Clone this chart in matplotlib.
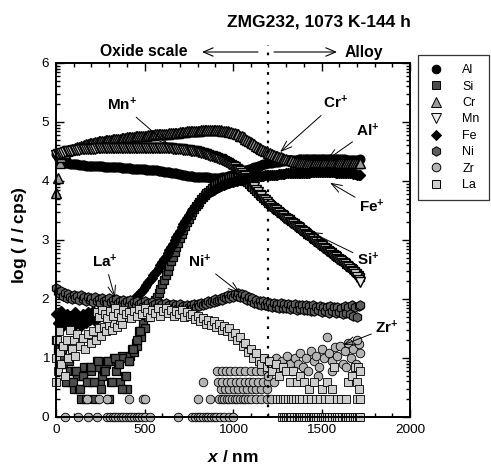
import matplotlib
matplotlib.use('Agg')
import matplotlib.pyplot as plt
import numpy as np
from matplotlib.lines import Line2D
from matplotlib.ticker import FixedLocator, MultipleLocator

# ---- data: log(I / cps) vs sputter depth (nm) ----
depth = [0, 10, 20, 30, 40, 50, 60, 70, 80, 90,
         100, 110, 120, 130, 140, 150, 160, 170, 180, 190,
         200, 210, 220, 230, 240, 250, 260, 270, 280, 290,
         300, 310, 320, 330, 340, 350, 360, 370, 380, 390,
         400, 410, 420, 430, 440, 450, 460, 470, 480, 490,
         500, 510, 520, 530, 540, 550, 560, 570, 580, 590,
         600, 610, 620, 630, 640, 650, 660, 670, 680, 690,
         700, 710, 720, 730, 740, 750, 760, 770, 780, 790,
         800, 810, 820, 830, 840, 850, 860, 870, 880, 890,
         900, 910, 920, 930, 940, 950, 960, 970, 980, 990,
         1000, 1010, 1020, 1030, 1040, 1050, 1060, 1070, 1080, 1090,
         1100, 1110, 1120, 1130, 1140, 1150, 1160, 1170, 1180, 1190,
         1200, 1210, 1220, 1230, 1240, 1250, 1260, 1270, 1280, 1290,
         1300, 1310, 1320, 1330, 1340, 1350, 1360, 1370, 1380, 1390,
         1400, 1410, 1420, 1430, 1440, 1450, 1460, 1470, 1480, 1490,
         1500, 1510, 1520, 1530, 1540, 1550, 1560, 1570, 1580, 1590,
         1600, 1610, 1620, 1630, 1640, 1650, 1660, 1670, 1680, 1690,
         1700, 1710, 1720]

al_log = [4.45, 4.40, 4.36, 4.34, 4.32, 4.31, 4.30, 4.30, 4.29, 4.29,
          4.28, 4.28, 4.28, 4.27, 4.27, 4.27, 4.27, 4.26, 4.26, 4.26,
          4.26, 4.25, 4.25, 4.25, 4.25, 4.25, 4.25, 4.24, 4.24, 4.24,
          4.24, 4.24, 4.24, 4.23, 4.23, 4.23, 4.23, 4.22, 4.22, 4.22,
          4.22, 4.22, 4.22, 4.21, 4.21, 4.21, 4.21, 4.20, 4.20, 4.20,
          4.20, 4.19, 4.19, 4.19, 4.19, 4.18, 4.18, 4.18, 4.17, 4.17,
          4.17, 4.16, 4.16, 4.15, 4.15, 4.14, 4.14, 4.13, 4.13, 4.12,
          4.12, 4.11, 4.10, 4.10, 4.09, 4.09, 4.08, 4.08, 4.07, 4.07,
          4.07, 4.06, 4.06, 4.06, 4.06, 4.06, 4.06, 4.05, 4.05, 4.05,
          4.05, 4.05, 4.05, 4.05, 4.06, 4.06, 4.07, 4.08, 4.09, 4.10,
          4.11, 4.12, 4.13, 4.14, 4.15, 4.16, 4.17, 4.18, 4.19, 4.20,
          4.21, 4.22, 4.23, 4.24, 4.25, 4.26, 4.27, 4.28, 4.29, 4.30,
          4.30, 4.31, 4.31, 4.32, 4.32, 4.33, 4.33, 4.34, 4.34, 4.35,
          4.35, 4.35, 4.35, 4.36, 4.36, 4.36, 4.36, 4.37, 4.37, 4.37,
          4.37, 4.37, 4.37, 4.38, 4.38, 4.38, 4.38, 4.38, 4.38, 4.38,
          4.38, 4.38, 4.38, 4.38, 4.37, 4.37, 4.37, 4.37, 4.37, 4.37,
          4.37, 4.37, 4.37, 4.37, 4.36, 4.36, 4.36, 4.36, 4.36, 4.36,
          4.36, 4.36, 4.37]

si_log = [1.30, 1.15, 1.00, 0.90, 0.90, 1.20, 0.60, 0.95, 0.78, 0.60,
          0.48, 0.78, 0.70, 0.48, 0.30, 0.70, 0.85, 0.30, 0.60, 0.85,
          0.78, 0.60, 0.30, 0.95, 0.85, 0.60, 0.70, 0.78, 0.90, 0.95,
          0.30, 0.60, 0.95, 1.00, 0.78, 0.90, 0.60, 1.04, 1.00, 0.70,
          0.48, 0.95, 1.04, 1.15, 1.10, 1.25, 1.20, 1.45, 1.35, 1.60,
          1.50, 1.75, 1.70, 1.80, 1.85, 1.92, 1.98, 2.04, 2.10, 2.17,
          2.25, 2.32, 2.40, 2.48, 2.56, 2.64, 2.72, 2.80, 2.88, 2.95,
          3.03, 3.10, 3.17, 3.24, 3.30, 3.36, 3.42, 3.47, 3.52, 3.57,
          3.61, 3.65, 3.69, 3.73, 3.76, 3.79, 3.82, 3.85, 3.88, 3.91,
          3.93, 3.95, 3.97, 3.99, 4.00, 4.02, 4.03, 4.04, 4.05, 4.06,
          4.07, 4.07, 4.07, 4.06, 4.05, 4.04, 4.02, 4.00, 3.98, 3.95,
          3.92, 3.89, 3.86, 3.83, 3.80, 3.77, 3.74, 3.71, 3.68, 3.66,
          3.63, 3.61, 3.58, 3.56, 3.53, 3.51, 3.49, 3.46, 3.44, 3.42,
          3.39, 3.37, 3.35, 3.32, 3.30, 3.28, 3.25, 3.23, 3.21, 3.18,
          3.16, 3.14, 3.11, 3.09, 3.07, 3.04, 3.02, 3.00, 2.97, 2.95,
          2.93, 2.90, 2.88, 2.86, 2.83, 2.81, 2.79, 2.76, 2.74, 2.72,
          2.69, 2.67, 2.65, 2.62, 2.60, 2.57, 2.55, 2.52, 2.50, 2.47,
          2.44, 2.41, 2.38]

# extra low-count Si points in the oxide scale
si_extra_depth = [15, 35, 55, 75, 95, 115, 135, 155, 175, 195, 215, 235, 255,
                  275, 295, 315, 335, 355, 375, 395, 415, 435, 455, 475]
si_extra_log = [0.90, 1.15, 0.60, 0.95, 0.60, 0.78, 0.48, 0.70, 0.60, 0.85, 0.60,
                0.95, 0.48, 0.78, 0.95, 0.60, 1.00, 0.90, 0.48, 0.70, 0.95, 1.15,
                1.30, 1.45]

cr_log = [3.80, 4.05, 4.30, 4.40, 4.45, 4.48, 4.50, 4.52, 4.53, 4.54,
          4.55, 4.56, 4.57, 4.58, 4.59, 4.60, 4.61, 4.62, 4.63, 4.64,
          4.64, 4.65, 4.66, 4.66, 4.67, 4.67, 4.68, 4.68, 4.69, 4.69,
          4.70, 4.70, 4.71, 4.71, 4.72, 4.72, 4.72, 4.73, 4.73, 4.73,
          4.74, 4.74, 4.74, 4.75, 4.75, 4.76, 4.76, 4.76, 4.76, 4.77,
          4.77, 4.77, 4.78, 4.78, 4.78, 4.78, 4.79, 4.79, 4.79, 4.79,
          4.80, 4.80, 4.80, 4.80, 4.81, 4.81, 4.82, 4.82, 4.82, 4.82,
          4.83, 4.83, 4.83, 4.83, 4.84, 4.84, 4.84, 4.84, 4.85, 4.85,
          4.85, 4.85, 4.86, 4.86, 4.86, 4.86, 4.86, 4.86, 4.86, 4.86,
          4.86, 4.86, 4.86, 4.86, 4.85, 4.85, 4.84, 4.84, 4.83, 4.83,
          4.82, 4.81, 4.80, 4.79, 4.77, 4.76, 4.74, 4.72, 4.70, 4.68,
          4.66, 4.64, 4.62, 4.60, 4.58, 4.56, 4.54, 4.53, 4.51, 4.50,
          4.48, 4.47, 4.45, 4.44, 4.43, 4.42, 4.41, 4.40, 4.39, 4.38,
          4.37, 4.36, 4.35, 4.35, 4.34, 4.33, 4.32, 4.32, 4.31, 4.31,
          4.30, 4.30, 4.29, 4.29, 4.28, 4.28, 4.28, 4.28, 4.28, 4.28,
          4.28, 4.28, 4.28, 4.28, 4.29, 4.29, 4.29, 4.29, 4.29, 4.29,
          4.30, 4.30, 4.30, 4.30, 4.30, 4.31, 4.31, 4.31, 4.31, 4.31,
          4.31, 4.31, 4.31]

mn_log = [4.44, 4.45, 4.46, 4.47, 4.48, 4.49, 4.50, 4.50, 4.51, 4.51,
          4.52, 4.52, 4.53, 4.53, 4.54, 4.54, 4.54, 4.55, 4.55, 4.55,
          4.55, 4.55, 4.55, 4.56, 4.56, 4.56, 4.56, 4.56, 4.56, 4.56,
          4.56, 4.56, 4.56, 4.56, 4.56, 4.56, 4.56, 4.56, 4.56, 4.56,
          4.56, 4.56, 4.56, 4.56, 4.56, 4.56, 4.56, 4.56, 4.56, 4.56,
          4.56, 4.56, 4.56, 4.56, 4.56, 4.56, 4.56, 4.56, 4.56, 4.56,
          4.56, 4.56, 4.56, 4.56, 4.56, 4.56, 4.55, 4.55, 4.55, 4.55,
          4.54, 4.54, 4.53, 4.53, 4.52, 4.52, 4.51, 4.51, 4.50, 4.50,
          4.49, 4.49, 4.48, 4.47, 4.46, 4.45, 4.44, 4.43, 4.42, 4.41,
          4.40, 4.39, 4.38, 4.37, 4.36, 4.34, 4.33, 4.31, 4.29, 4.27,
          4.25, 4.23, 4.21, 4.19, 4.17, 4.14, 4.11, 4.08, 4.05, 4.01,
          3.97, 3.93, 3.89, 3.85, 3.81, 3.77, 3.74, 3.70, 3.67, 3.64,
          3.61, 3.58, 3.55, 3.53, 3.50, 3.48, 3.45, 3.43, 3.41, 3.38,
          3.36, 3.34, 3.31, 3.29, 3.27, 3.24, 3.22, 3.20, 3.17, 3.15,
          3.13, 3.10, 3.08, 3.06, 3.03, 3.01, 2.99, 2.96, 2.94, 2.92,
          2.89, 2.87, 2.85, 2.82, 2.80, 2.78, 2.75, 2.73, 2.71, 2.68,
          2.66, 2.64, 2.61, 2.59, 2.56, 2.54, 2.51, 2.48, 2.45, 2.42,
          2.38, 2.33, 2.28]

fe_log = [1.75, 1.60, 1.70, 1.80, 1.55, 1.65, 1.75, 1.60, 1.72, 1.50,
          1.65, 1.78, 1.60, 1.70, 1.55, 1.75, 1.68, 1.60, 1.78, 1.65,
          1.72, 1.80, 1.62, 1.75, 1.70, 1.82, 1.78, 1.80, 1.75, 1.83,
          1.85, 1.80, 1.83, 1.86, 1.82, 1.87, 1.85, 1.88, 1.86, 1.90,
          1.92, 1.94, 1.95, 1.97, 2.00, 2.02, 2.05, 2.08, 2.12, 2.16,
          2.20, 2.24, 2.28, 2.32, 2.36, 2.40, 2.44, 2.48, 2.53, 2.57,
          2.62, 2.67, 2.72, 2.78, 2.83, 2.88, 2.94, 3.00, 3.05, 3.11,
          3.16, 3.22, 3.27, 3.33, 3.38, 3.43, 3.47, 3.51, 3.55, 3.59,
          3.62, 3.65, 3.68, 3.71, 3.74, 3.77, 3.79, 3.81, 3.83, 3.85,
          3.87, 3.88, 3.90, 3.92, 3.93, 3.94, 3.95, 3.96, 3.97, 3.98,
          3.99, 4.00, 4.00, 4.01, 4.02, 4.02, 4.03, 4.04, 4.05, 4.05,
          4.06, 4.06, 4.07, 4.07, 4.08, 4.08, 4.09, 4.09, 4.10, 4.10,
          4.10, 4.10, 4.11, 4.11, 4.11, 4.11, 4.12, 4.12, 4.12, 4.12,
          4.13, 4.13, 4.13, 4.13, 4.13, 4.13, 4.14, 4.14, 4.14, 4.14,
          4.14, 4.14, 4.14, 4.14, 4.15, 4.15, 4.15, 4.15, 4.15, 4.15,
          4.15, 4.15, 4.15, 4.15, 4.15, 4.15, 4.15, 4.15, 4.14, 4.14,
          4.14, 4.14, 4.14, 4.14, 4.13, 4.13, 4.13, 4.13, 4.12, 4.12,
          4.11, 4.11, 4.10]

ni_log = [2.18, 2.12, 2.08, 2.14, 2.05, 2.10, 2.02, 2.09, 2.04, 2.00,
          2.07, 2.01, 2.05, 1.98, 2.06, 2.00, 2.03, 1.96, 2.04, 1.99,
          2.02, 1.95, 2.03, 1.97, 2.00, 1.94, 2.02, 1.96, 1.99, 1.93,
          2.01, 1.95, 1.98, 1.92, 2.00, 1.94, 1.97, 1.91, 1.99, 1.93,
          1.96, 1.90, 1.98, 1.92, 1.95, 1.89, 1.97, 1.91, 1.94, 1.88,
          1.96, 1.90, 1.93, 1.87, 1.95, 1.89, 1.92, 1.86, 1.94, 1.88,
          1.91, 1.85, 1.93, 1.87, 1.90, 1.84, 1.92, 1.86, 1.89, 1.84,
          1.91, 1.85, 1.88, 1.84, 1.90, 1.86, 1.89, 1.85, 1.92, 1.87,
          1.91, 1.88, 1.94, 1.90, 1.93, 1.92, 1.97, 1.93, 1.96, 1.95,
          2.00, 1.96, 1.99, 2.02, 1.98, 2.04, 2.01, 2.06, 2.02, 2.07,
          2.04, 2.08, 2.05, 2.10, 2.03, 2.08, 2.02, 2.06, 1.99, 2.04,
          1.97, 2.01, 1.94, 1.99, 1.92, 1.97, 1.90, 1.96, 1.89, 1.95,
          1.88, 1.94, 1.87, 1.93, 1.86, 1.92, 1.85, 1.93, 1.84, 1.91,
          1.85, 1.92, 1.83, 1.90, 1.84, 1.91, 1.82, 1.89, 1.83, 1.90,
          1.81, 1.89, 1.82, 1.88, 1.80, 1.89, 1.79, 1.87, 1.81, 1.88,
          1.78, 1.87, 1.80, 1.86, 1.77, 1.88, 1.79, 1.86, 1.76, 1.87,
          1.78, 1.85, 1.75, 1.88, 1.77, 1.86, 1.74, 1.89, 1.72, 1.87,
          1.70, 1.88, 1.90]

# Zr: low counts, only points with counts > 0
zr_depth = ([50, 125, 180, 230, 290, 305, 320, 335, 350, 365, 380, 395, 410, 425,
             440, 455, 470, 485, 500, 530, 690, 770, 785, 800, 815, 830, 845, 860,
             875, 890, 905, 925, 950, 980, 1000]
            + [175, 240, 290, 410, 490, 505, 800, 870, 920, 935, 950, 965, 980, 995,
               1010, 1025, 1040, 1055, 1070, 1085, 1100, 1130, 1160, 1190, 1215]
            + [930, 955, 980, 1005, 1030, 1055, 1080, 1105, 1130, 1160, 1190]
            + [830, 915, 940, 965, 990, 1015, 1040, 1065, 1090, 1115, 1140, 1170,
               1200, 1230]
            + [910, 935, 960, 985, 1010, 1040, 1070, 1100, 1130, 1160, 1190]
            + [1200, 1215, 1230, 1245, 1260, 1275, 1290, 1305, 1320, 1335, 1350,
               1365, 1380, 1395, 1410, 1425, 1440, 1455, 1470, 1485, 1500, 1515,
               1531, 1545, 1560, 1575, 1590, 1605, 1620, 1635, 1650, 1665, 1680,
               1695, 1710, 1720, 1700, 1640, 1560, 1480])
zr_log = ([0.0] * 35 + [0.30] * 25 + [0.48] * 11 + [0.60] * 14 + [0.78] * 11
          + [0.70, 0.90, 0.85, 1.00, 0.78, 0.95, 0.85, 1.04, 0.90, 0.78, 1.00,
             0.90, 1.08, 0.85, 1.00, 0.78, 1.11, 0.95, 1.04, 0.85, 1.15, 1.00,
             1.36, 1.08, 0.95, 1.18, 1.04, 1.20, 0.90, 1.11, 1.26, 1.00, 1.15,
             0.90, 1.23, 1.08, 1.30, 0.85, 0.78, 0.70])

la_depth = ([0, 0, 5, 10, 15, 20, 30, 40, 50, 60, 70, 80, 90, 100, 110, 120, 135,
             150, 165, 180, 195, 210, 225, 240, 255, 270, 285, 300, 315, 330, 345,
             360, 375, 390]
            + [230, 245, 260, 275, 290, 305, 320, 335, 350, 365, 380, 395, 410,
               425, 440, 455, 470, 485, 500, 515, 530, 545, 560, 575, 590, 605,
               620, 635, 650, 665, 680, 695, 710, 725, 740, 755, 770, 785, 800,
               815, 830, 845, 860, 875, 890, 905, 920, 935, 950]
            + [965, 980, 995, 1010, 1025, 1040, 1055, 1070, 1085, 1100, 1115, 1130,
               1145, 1160, 1175, 1190, 1205, 1220, 1240, 1260, 1280, 1300, 1320,
               1340, 1360, 1380, 1400, 1430, 1460, 1500, 1530, 1560, 1570, 1650,
               1670, 1690, 1700, 1705, 1710, 1720]
            + [1250, 1265, 1280, 1295, 1310, 1325, 1340, 1355, 1370, 1390, 1420,
               1440, 1470, 1490, 1520, 1545, 1590, 1610, 1640, 1700, 1720]
            + [1275, 1290, 1300, 1310, 1320, 1330, 1345, 1360, 1370, 1380, 1390,
               1400, 1415, 1430, 1440, 1450, 1460, 1470, 1480, 1495, 1510, 1520,
               1530, 1545, 1560, 1575, 1590, 1600, 1615, 1630, 1640, 1650, 1660,
               1675, 1690, 1700, 1710, 1720])
la_log = ([0.60, 1.00, 1.30, 0.78, 1.45, 1.10, 0.90, 1.20, 0.70, 1.30, 1.00, 1.48,
           1.15, 1.30, 1.04, 1.40, 1.20, 1.34, 1.15, 1.40, 1.26, 1.45, 1.30, 1.50,
           1.38, 1.52, 1.45, 1.56, 1.48, 1.60, 1.52, 1.65, 1.58, 1.70]
          + [1.78, 1.70, 1.82, 1.75, 1.68, 1.80, 1.72, 1.84, 1.76, 1.70, 1.82,
             1.75, 1.78, 1.68, 1.80, 1.72, 1.83, 1.75, 1.85, 1.78, 1.70, 1.82,
             1.76, 1.84, 1.72, 1.80, 1.85, 1.76, 1.82, 1.72, 1.80, 1.75, 1.82,
             1.70, 1.78, 1.72, 1.75, 1.66, 1.72, 1.62, 1.68, 1.58, 1.65, 1.56,
             1.62, 1.52, 1.58, 1.48, 1.55]
          + [1.45, 1.50, 1.38, 1.42, 1.30, 1.35, 1.20, 1.25, 1.10, 1.15, 1.00, 1.08,
             0.95, 0.90, 1.00, 0.85, 0.95, 0.78, 0.90, 0.70, 0.85, 0.78, 0.60, 0.78,
             0.60, 0.70, 0.60, 0.48, 0.60, 0.48, 0.60, 0.48, 0.85, 0.60, 0.70, 0.85,
             0.60, 0.85, 0.48, 0.78]
          + [0.30] * 21 + [0.0] * 38)

elements = ['Al', 'Si', 'Cr', 'Mn', 'Fe', 'Ni', 'Zr', 'La']

# ---- style ----
plt.rcParams['font.family'] = ['Liberation Sans', 'DejaVu Sans']
plt.rcParams['mathtext.fontset'] = 'custom'
plt.rcParams['mathtext.rm'] = 'Liberation Sans'
plt.rcParams['mathtext.bf'] = 'Liberation Sans:bold'
plt.rcParams['mathtext.it'] = 'Liberation Sans:italic:bold'

marker_style = {
    'Al': dict(marker='o', ms=6.2, mfc='black'),
    'Si': dict(marker='s', ms=5.6, mfc='#4d4d4d'),
    'Cr': dict(marker='^', ms=6.5, mfc='#9a9a9a'),
    'Mn': dict(marker='v', ms=6.5, mfc='#ececec'),
    'Fe': dict(marker='D', ms=5.4, mfc='black'),
    'Ni': dict(marker='h', ms=6.8, mfc='#5e5e5e'),
    'Zr': dict(marker='o', ms=6.2, mfc='#b4b4b4'),
    'La': dict(marker='s', ms=5.6, mfc='#cdcdcd'),
}
# dense profiles get heavier marker outlines (overlapping symbols look dark)
edge_width = {'Al': 1.0, 'Si': 0.9, 'Cr': 1.0, 'Mn': 1.0, 'Fe': 1.0,
              'Ni': 0.8, 'Zr': 0.6, 'La': 0.6}

fig = plt.figure(figsize=(4.91, 4.68), dpi=100)
ax = fig.add_axes([0.1141, 0.1090, 0.7210, 0.7564])

series = {
    'Al': (depth, al_log),
    'Si': (depth + si_extra_depth, si_log + si_extra_log),
    'Cr': (depth, cr_log),
    'Mn': (depth, mn_log),
    'Fe': (depth, fe_log),
    'Ni': (depth, ni_log),
    'Zr': (zr_depth, zr_log),
    'La': (la_depth, la_log),
}

handles = []
for el in elements:
    xs, ys = series[el]
    ax.plot(xs, ys, linestyle='none', mec='black', mew=edge_width[el],
            clip_on=False, **marker_style[el])
    handles.append(Line2D([], [], linestyle='none', mec='black', mew=0.7,
                          **marker_style[el]))

ax.set_xlim(0, 2000)
ax.set_ylim(0, 6)
ax.xaxis.set_major_locator(MultipleLocator(500))
ax.xaxis.set_minor_locator(MultipleLocator(100))
ax.yaxis.set_major_locator(MultipleLocator(1))
ax.yaxis.set_minor_locator(FixedLocator(
    [k + np.log10(m) for k in range(6) for m in range(2, 10)]))
ax.tick_params(which='both', direction='in', top=True, right=True,
               labelsize=9.7, width=1.0)
ax.tick_params(which='major', length=5.5, pad=5)
ax.tick_params(which='minor', length=3)
for sp in ax.spines.values():
    sp.set_linewidth(1.4)

# oxide / alloy interface
ax.axvline(1200, ymin=0, ymax=1.051, color='black', lw=1.6,
           linestyle=(0, (1.2, 3.2)), clip_on=False)

# axis labels
fig.text(20 / 491, 1 - 235 / 468, r'log ( $\mathit{I}$ / cps)', rotation=90,
         ha='center', va='center', fontsize=12.5, fontweight='bold')
fig.text(233 / 491, 1 - 457 / 468, r'$\mathit{x}$ / nm', ha='center',
         va='center', fontsize=12.5, fontweight='bold')

# header texts and arrows
fig.text(319 / 491, 1 - 22 / 468, 'ZMG232, 1073 K-144 h', ha='center',
         va='center', fontsize=12.5, fontweight='bold')
fig.text(144 / 491, 1 - 52 / 468, 'Oxide scale', ha='center', va='center',
         fontsize=11.3, fontweight='bold')
fig.text(364 / 491, 1 - 52 / 468, 'Alloy', ha='center', va='center',
         fontsize=11.3, fontweight='bold')
arrow_kw = dict(arrowstyle='->,head_length=0.7,head_width=0.3', lw=0.8,
                color='black', shrinkA=0, shrinkB=0)
ax.annotate('', xy=(202 / 491, 1 - 52 / 468), xytext=(258 / 491, 1 - 52 / 468),
            xycoords='figure fraction', textcoords='figure fraction',
            arrowprops=arrow_kw, annotation_clip=False)
ax.annotate('', xy=(337 / 491, 1 - 52 / 468), xytext=(274 / 491, 1 - 52 / 468),
            xycoords='figure fraction', textcoords='figure fraction',
            arrowprops=arrow_kw, annotation_clip=False)

# ion labels: (text, text position, arrow target) in data units
ion_labels = [
    (r'$\mathbf{Mn^{+}}$', (373, 5.29), (633, 4.61)),
    (r'$\mathbf{Cr^{+}}$', (1576, 5.32), (1266, 4.49)),
    (r'$\mathbf{Al^{+}}$', (1763, 4.85), (1531, 4.36)),
    (r'$\mathbf{Fe^{+}}$', (1785, 3.56), (1548, 3.97)),
    (r'$\mathbf{Si^{+}}$', (1763, 2.66), (1435, 3.14)),
    (r'$\mathbf{La^{+}}$', (277, 2.63), (333, 2.02)),
    (r'$\mathbf{Ni^{+}}$', (814, 2.63), (1040, 2.10)),
    (r'$\mathbf{Zr^{+}}$', (1870, 1.51), (1621, 1.22)),
]
for txt, tpos, target in ion_labels:
    ax.annotate(txt, xy=target, xytext=tpos, ha='center', va='center',
                fontsize=11,
                arrowprops=dict(arrowstyle='->,head_length=0.7,head_width=0.25',
                                lw=0.7, color='black', shrinkA=1, shrinkB=0),
                annotation_clip=False)

leg = fig.legend(handles, elements, loc='upper left',
                 bbox_to_anchor=(418 / 491, 1 - 55 / 468), borderaxespad=0,
                 frameon=True, fancybox=False, edgecolor='black', fontsize=9,
                 handletextpad=1.4, labelspacing=0.35, borderpad=0.75,
                 handlelength=1.4)
leg.get_frame().set_linewidth(0.9)

plt.savefig('out.png', dpi=100)
